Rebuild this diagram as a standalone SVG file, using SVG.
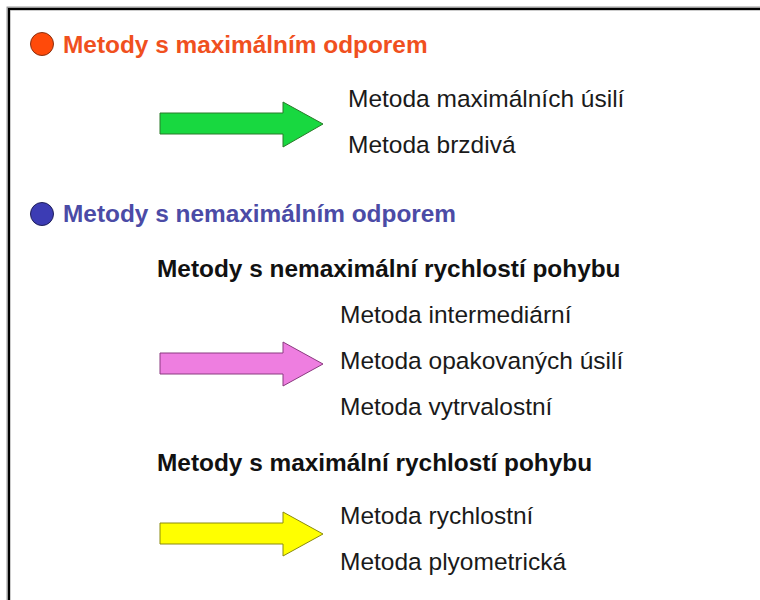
<svg xmlns="http://www.w3.org/2000/svg" width="760" height="600" viewBox="0 0 760 600">
  <style>
    .head { font-family: "Liberation Sans", Arial, sans-serif; font-weight: bold; font-size: 24.4px; }
    .sub { font-family: "Liberation Sans", Arial, sans-serif; font-weight: bold; font-size: 24.4px; fill: #111; }
    .item { font-family: "Liberation Sans", Arial, sans-serif; font-size: 24.5px; fill: #1a1a1a; }
    .arrow { stroke-width: 1; stroke-linejoin: miter; }
  </style>
  <rect width="760" height="600" fill="#ffffff"/>
  <!-- page frame: top and left edges -->
  <g id="frame" fill="none">
    <path d="M8.5 600 V8.5 H760" stroke="#9a9a9a" stroke-width="4"/>
    <path d="M9 600 V9 H760" stroke="#000" stroke-width="2"/>
  </g>

  <g id="group-max">
    <circle cx="42" cy="44" r="11.5" fill="#ff4a0a" stroke="#8a3010" stroke-width="1"/>
    <text class="head" x="63" y="53" fill="#f0501e">Metody s maximálním odporem</text>
  </g>

  <g id="group-nonmax">
    <circle cx="42" cy="214" r="11.5" fill="#3c3cb4" stroke="#20205a" stroke-width="1"/>
    <text class="head" x="63" y="222" fill="#4b4ba6">Metody s nemaximálním odporem</text>
  </g>

  <g id="sub-nonmax-speed">
    <text class="sub" x="157" y="277">Metody s nemaximální rychlostí pohybu</text>
  </g>
  <g id="sub-max-speed">
    <text class="sub" x="157" y="471">Metody s maximální rychlostí pohybu</text>
  </g>

  <g id="list-max">
    <text class="item" x="348" y="107">Metoda maximálních úsilí</text>
    <text class="item" x="348" y="153">Metoda brzdivá</text>
  </g>
  <g id="list-nonmax-speed">
    <text class="item" x="340" y="323">Metoda intermediární</text>
    <text class="item" x="340" y="369">Metoda opakovaných úsilí</text>
    <text class="item" x="340" y="415">Metoda vytrvalostní</text>
  </g>
  <g id="list-max-speed">
    <text class="item" x="340" y="524">Metoda rychlostní</text>
    <text class="item" x="340" y="570">Metoda plyometrická</text>
  </g>

  <!-- block arrows pointing at each list -->
  <g id="connectors" class="arrow">
    <path d="M160 113 H283 V102 L323 124 L283 147 V134 H160 Z" fill="#18d840" stroke="#2a7a2a"/>
    <path d="M160 353 H283 V342 L323 364 L283 386 V374 H160 Z" fill="#ee7ee0" stroke="#8a3a80"/>
    <path d="M160 523 H283 V512 L323 534 L283 556 V544 H160 Z" fill="#ffff00" stroke="#8a8a10"/>
  </g>
</svg>
